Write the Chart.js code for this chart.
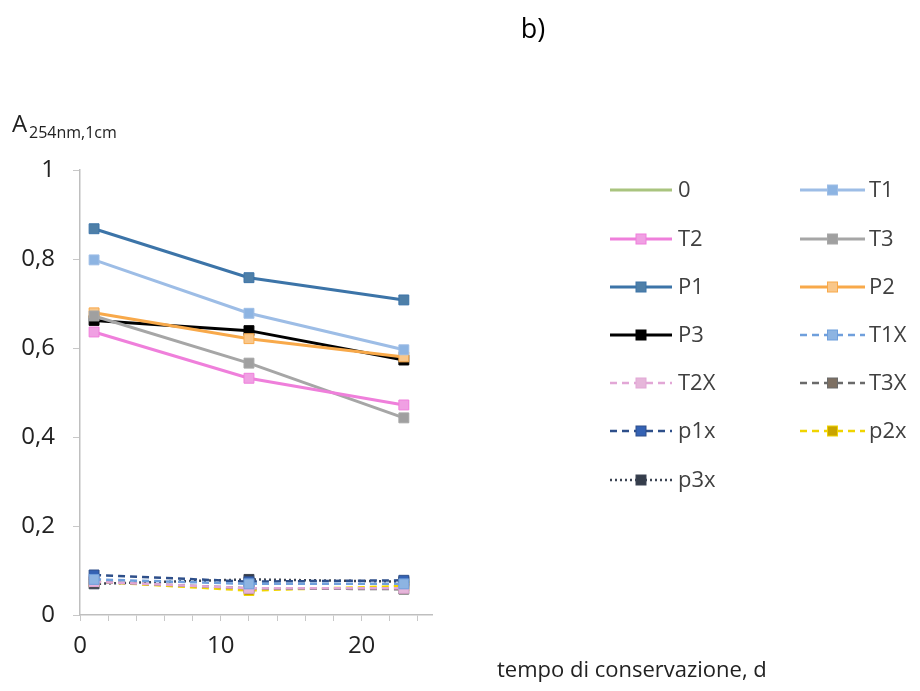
<!DOCTYPE html>
<html>
<head>
<meta charset="utf-8">
<script src="https://cdn.jsdelivr.net/npm/chart.js@4"></script>
<style>
	html, body { margin: 0; padding: 0; background: #fff; }
	#wrap { width: 920px; height: 691px; }
</style>
</head>
<body>
<div id="wrap"><canvas id="absChart" width="920" height="691"></canvas></div>
<script>
// storage time, days
const days = [1, 12, 23];

// absorbance at 254 nm, 1 cm
const s0 = [null, null, null];
const sT1 = [0.798, 0.678, 0.596];
const sT2 = [0.636, 0.532, 0.472];
const sT3 = [0.672, 0.566, 0.443];
const sP1 = [0.868, 0.758, 0.708];
const sP2 = [0.679, 0.621, 0.580];
const sP3 = [0.662, 0.639, 0.573];
const sT1X = [0.080, 0.070, 0.070];
const sT2X = [0.075, 0.060, 0.060];
const sT3X = [0.075, 0.060, 0.058];
const sp1x = [0.090, 0.075, 0.078];
const sp2x = [0.075, 0.055, 0.065];
const sp3x = [0.070, 0.080, 0.075];

const xTicks = [0, 10, 20];
const yTicks = [0, 0.2, 0.4, 0.6, 0.8, 1];

const FONT = "'Open Sans', sans-serif";

function series(label, values, line, marker, dash, width) {
	return {
		label: label,
		data: values.map((v, i) => ({ x: days[i], y: v })),
		borderColor: line,
		backgroundColor: marker || line,
		borderWidth: width || 3,
		borderDash: dash || [],
		pointStyle: "rect",
		pointRadius: marker ? 7 : 0,
		pointBorderWidth: 1,
		pointBorderColor: line,
		pointBackgroundColor: marker,
		tension: 0,
	};
}

const datasets = [
	series("0", s0, "#a9c47f", null),
	series("T1", sT1, "#9dbde6", "#8db4e2"),
	series("T2", sT2, "#ef7fdb", "#f0a0e3"),
	series("T3", sT3, "#a6a6a6", "#a0a0a0"),
	series("P1", sP1, "#3c74a8", "#4e7fa8"),
	series("P2", sP2, "#f8a94a", "#f9c78a"),
	series("P3", sP3, "#000000", "#000000"),
	series("T1X", sT1X, "#6f9fdc", "#8db4e2", [7, 5], 2.5),
	series("T2X", sT2X, "#e2a7d6", "#e6b6da", [7, 5], 2.5),
	series("T3X", sT3X, "#6a6a6a", "#7d6f62", [7, 5], 2.5),
	series("p1x", sp1x, "#2e4f8a", "#3462b4", [7, 5], 2.5),
	series("p2x", sp2x, "#f0d400", "#c9a400", [7, 5], 2.5),
	series("p3x", sp3x, "#3d4554", "#353d4b", [2, 3], 2.5),
];

// title, axis titles and the two-column legend
const decorations = {
	id: "decorations",
	afterDraw(chart) {
		const ctx = chart.ctx;
		ctx.save();
		ctx.fillStyle = "#000";
		ctx.textBaseline = "alphabetic";
		ctx.textAlign = "center";
		ctx.font = "27px " + FONT;
		ctx.fillText("b)", 533, 38);

		ctx.textAlign = "left";
		ctx.fillStyle = "#222";
		ctx.font = "24px " + FONT;
		ctx.fillText("A", 12, 132);
		ctx.font = "16px " + FONT;
		ctx.fillText("254nm,1cm", 29, 138);

		ctx.font = "22px " + FONT;
		ctx.fillStyle = "#222";
		ctx.fillText("tempo di conservazione, d", 497, 677);

		const rowY = [190, 239, 287, 335, 383, 431, 480];
		const cols = [{ x0: 610, x1: 672, tx: 678 }, { x0: 800, x1: 865, tx: 869 }];
		chart.data.datasets.forEach((ds, i) => {
			const c = cols[i % 2];
			const y = rowY[Math.floor(i / 2)];
			ctx.strokeStyle = ds.borderColor;
			ctx.lineWidth = ds.borderWidth;
			ctx.setLineDash(ds.borderDash);
			ctx.beginPath();
			ctx.moveTo(c.x0, y);
			ctx.lineTo(c.x1, y);
			ctx.stroke();
			ctx.setLineDash([]);
			if (ds.pointRadius > 0) {
				const m = (c.x0 + c.x1) / 2;
				ctx.fillStyle = ds.pointBackgroundColor;
				ctx.fillRect(m - 5, y - 5, 10, 10);
				ctx.lineWidth = 1;
				ctx.strokeRect(m - 5, y - 5, 10, 10);
			}
			ctx.fillStyle = "#404040";
			ctx.font = "22px " + FONT;
			ctx.textBaseline = "middle";
			ctx.fillText(ds.label, c.tx, y + 1);
		});
		ctx.restore();
	},
};

new Chart(document.getElementById("absChart"), {
	type: "line",
	data: { datasets: datasets },
	plugins: [decorations],
	options: {
		responsive: false,
		animation: false,
		layout: { padding: { top: 170, right: 488, left: 0, bottom: 0 } },
		plugins: {
			legend: { display: false },
			tooltip: { enabled: false },
		},
		scales: {
			x: {
				type: "linear",
				min: 0,
				max: 25,
				afterFit: (scale) => { scale.height = 76; },
				border: { color: "#bfbfbf", width: 1.5 },
				grid: { drawOnChartArea: false, drawTicks: true, tickLength: 6, color: "#c8c8c8" },
				ticks: {
					stepSize: 2,
					includeBounds: false,
					autoSkip: false,
					maxRotation: 0,
					padding: 11,
					color: "#222",
					font: { family: FONT, size: 24 },
					callback: (v) => (xTicks.includes(v) ? String(v) : ""),
				},
			},
			y: {
				min: 0,
				max: 1,
				afterFit: (scale) => { scale.width = 80; },
				border: { color: "#bfbfbf", width: 1.5 },
				grid: { drawOnChartArea: false, drawTicks: true, tickLength: 7, color: "#c8c8c8" },
				afterBuildTicks: (scale) => { scale.ticks = yTicks.map((v) => ({ value: v })); },
				ticks: {
					padding: 18,
					color: "#222",
					font: { family: FONT, size: 24 },
					callback: (v) => (v === 0 || v === 1 ? String(v) : v.toFixed(1).replace(".", ",")),
				},
			},
		},
	},
});
</script>
</body>
</html>
